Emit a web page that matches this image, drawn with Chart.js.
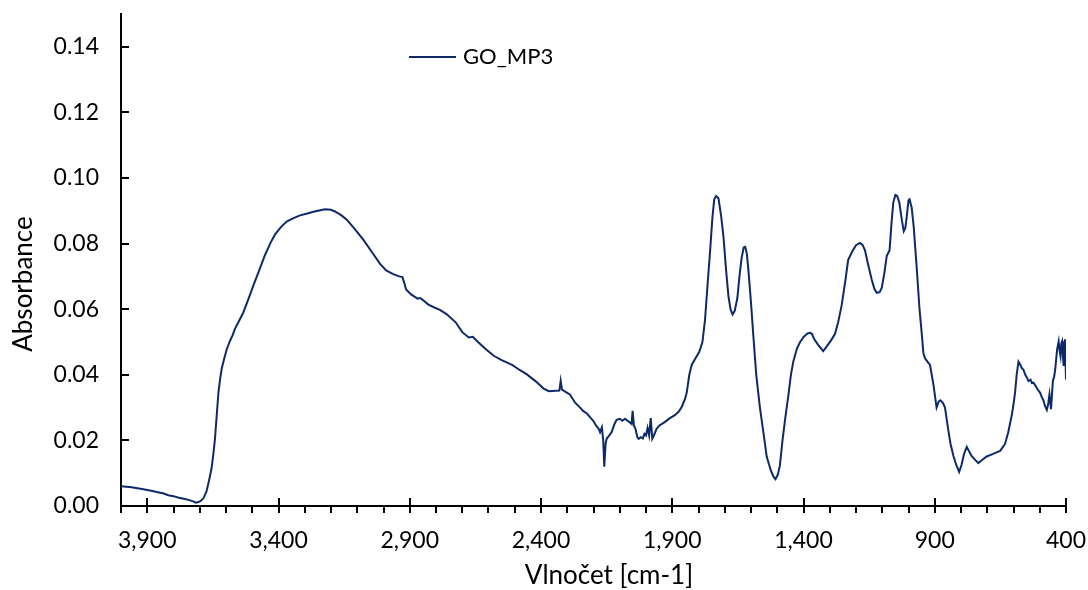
<!DOCTYPE html>
<html><head><meta charset="utf-8">
<script src="https://cdn.jsdelivr.net/npm/chart.js@4.4.1/dist/chart.umd.min.js"></script>
<style>html,body{margin:0;padding:0;background:#fff}#wrap{width:1088px;height:590px;position:relative}</style>
</head><body><div id="wrap"><canvas id="c" width="1088" height="590"></canvas></div>
<script>
const seriesLabel = 'GO_MP3';
const xTitle = 'Vlnočet [cm-1]';
const yTitle = 'Absorbance';
const xTickValues = [3900, 3400, 2900, 2400, 1900, 1400, 900, 400];
const yTickValues = [0, 0.02, 0.04, 0.06, 0.08, 0.10, 0.12, 0.14];
const wavenumbers = [
4000,3960,3920,3880,3860,3840,3820,3800,3780,3760,3740,3725,3715,3705,3695,3685,3674,3664,3655,3648,
3642,3635,3629,3622,3616,3605,3597,3585,3575,3566,3550,3534,3515,3496,3475,3451,3430,3413,3390,3369,
3345,3318,3290,3267,3245,3223,3200,3185,3160,3140,3110,3077,3045,3013,2990,2963,2940,2928,2920,2914,
2895,2870,2860,2850,2829,2800,2785,2760,2725,2700,2675,2660,2640,2610,2580,2550,2510,2480,2455,2420,
2390,2370,2345,2330,2325,2320,2300,2290,2270,2251,2240,2225,2210,2201,2190,2180,2175,2168,2163,2159,
2154,2150,2140,2131,2120,2112,2100,2090,2080,2074,2062,2055,2051,2046,2040,2033,2028,2020,2012,2006,
2000,1994,1988,1982,1976,1970,1960,1950,1930,1909,1890,1875,1864,1852,1845,1835,1826,1812,1797,1785,
1775,1765,1756,1747,1740,1733,1724,1714,1705,1695,1686,1678,1670,1662,1652,1644,1636,1628,1622,1616,
1610,1600,1591,1580,1566,1552,1540,1525,1515,1507,1498,1490,1480,1470,1458,1448,1439,1425,1413,1400,
1385,1375,1368,1360,1345,1325,1310,1295,1280,1268,1255,1240,1230,1215,1200,1185,1175,1166,1155,1140,
1130,1121,1110,1102,1092,1083,1072,1065,1058,1050,1043,1035,1025,1018,1012,1007,1000,996,988,980,
969,958,950,943,937,925,918,905,893,885,878,868,861,850,840,829,818,807,798,788,
778,770,760,745,734,720,702,680,660,651,640,632,620,607,600,594,588,581,575,568,
562,555,548,543,535,530,524,515,508,499,492,486,480,473,468,463,457,450,445,441,
434,428,424,421,418,415,412,409,404,402,400
];
const absorbance = [
0.0060,0.0057,0.0052,0.0046,0.0042,0.0039,0.0033,0.0030,0.0025,0.0022,0.0018,0.0014,0.0010,0.0012,0.0016,0.0025,0.0045,0.0080,0.0115,0.0160,
0.0205,0.0280,0.0345,0.0390,0.0420,0.0455,0.0478,0.0503,0.0520,0.0540,0.0565,0.0590,0.0630,0.0672,0.0715,0.0766,0.0803,0.0828,0.0851,0.0867,
0.0877,0.0886,0.0892,0.0897,0.0901,0.0905,0.0903,0.0898,0.0886,0.0873,0.0845,0.0812,0.0775,0.0738,0.0718,0.0707,0.0700,0.0698,0.0678,0.0660,
0.0645,0.0632,0.0634,0.0628,0.0614,0.0603,0.0598,0.0585,0.0560,0.0530,0.0514,0.0516,0.0500,0.0478,0.0458,0.0445,0.0430,0.0414,0.0402,0.0380,
0.0358,0.0350,0.0351,0.0352,0.0382,0.0355,0.0345,0.0340,0.0315,0.0300,0.0290,0.0282,0.0268,0.0260,0.0245,0.0235,0.0225,0.0240,0.0200,0.0120,
0.0190,0.0205,0.0215,0.0225,0.0250,0.0263,0.0266,0.0260,0.0266,0.0262,0.0255,0.0250,0.0290,0.0245,0.0235,0.0210,0.0205,0.0210,0.0206,0.0220,
0.0215,0.0238,0.0215,0.0268,0.0205,0.0215,0.0235,0.0245,0.0255,0.0268,0.0277,0.0288,0.0302,0.0325,0.0345,0.0400,0.0430,0.0450,0.0470,0.0500,
0.0569,0.0680,0.0775,0.0880,0.0935,0.0945,0.0938,0.0885,0.0822,0.0720,0.0640,0.0600,0.0584,0.0595,0.0634,0.0700,0.0755,0.0788,0.0790,0.0770,
0.0720,0.0620,0.0518,0.0400,0.0300,0.0220,0.0150,0.0110,0.0090,0.0082,0.0095,0.0123,0.0200,0.0265,0.0335,0.0400,0.0440,0.0480,0.0500,0.0515,
0.0526,0.0528,0.0525,0.0510,0.0492,0.0472,0.0488,0.0505,0.0525,0.0560,0.0610,0.0690,0.0750,0.0775,0.0795,0.0802,0.0796,0.0780,0.0740,0.0690,
0.0662,0.0650,0.0652,0.0665,0.0710,0.0762,0.0780,0.0860,0.0925,0.0948,0.0945,0.0925,0.0870,0.0838,0.0848,0.0880,0.0932,0.0935,0.0910,0.0850,
0.0730,0.0600,0.0530,0.0465,0.0450,0.0437,0.0430,0.0370,0.0300,0.0318,0.0322,0.0313,0.0300,0.0240,0.0190,0.0153,0.0125,0.0104,0.0125,0.0160,
0.0180,0.0168,0.0153,0.0140,0.0131,0.0140,0.0151,0.0158,0.0165,0.0168,0.0180,0.0190,0.0225,0.0275,0.0310,0.0346,0.0400,0.0440,0.0432,0.0420,
0.0415,0.0400,0.0390,0.0381,0.0385,0.0375,0.0376,0.0365,0.0355,0.0346,0.0332,0.0322,0.0305,0.0293,0.0310,0.0340,0.0295,0.0381,0.0395,0.0417,
0.0477,0.0502,0.0470,0.0457,0.0495,0.0502,0.0460,0.0427,0.0508,0.0450,0.0386
];

const FONT = 'Lato, "Open Sans", sans-serif';
const LINE_COLOR = '#0c2a6a';

const decorPlugin = {
  id: 'decor',
  afterDraw(chart) {
    const ctx = chart.ctx;
    const xs = chart.scales.x, ys = chart.scales.y;
    const ca = chart.chartArea;
    ctx.save();
    ctx.strokeStyle = '#000';
    ctx.lineWidth = 2;
    yTickValues.forEach(v => {
      const py = Math.round(ys.getPixelForValue(v));
      ctx.beginPath(); ctx.moveTo(ca.left, py); ctx.lineTo(ca.left + 8, py); ctx.stroke();
    });
    for (let v = 400; v <= 4000; v += 100) {
      const px = Math.round(xs.getPixelForValue(v));
      ctx.beginPath(); ctx.moveTo(px, ca.bottom); ctx.lineTo(px, ca.bottom + 7); ctx.stroke();
    }
    xTickValues.forEach(v => {
      const px = Math.round(xs.getPixelForValue(v));
      ctx.beginPath(); ctx.moveTo(px, ca.bottom - 8); ctx.lineTo(px, ca.bottom + 7); ctx.stroke();
    });
    const ds = chart.data.datasets[0];
    ctx.strokeStyle = ds.borderColor; ctx.lineWidth = 2;
    ctx.beginPath(); ctx.moveTo(409, 57); ctx.lineTo(456, 57); ctx.stroke();
    ctx.fillStyle = '#000';
    ctx.font = '22px ' + FONT;
    ctx.textBaseline = 'middle'; ctx.textAlign = 'left';
    ctx.fillText(ds.label, 463, 57);
    ctx.font = '26px ' + FONT;
    ctx.textAlign = 'center';
    ctx.fillText(xTitle, 609, 576);
    ctx.translate(24, 284); ctx.rotate(-Math.PI / 2);
    ctx.fillText(yTitle, 0, 0);
    ctx.restore();
  }
};

new Chart(document.getElementById('c'), {
  type: 'line',
  data: {
    datasets: [{
      label: seriesLabel,
      data: wavenumbers.map((w, i) => ({ x: w, y: absorbance[i] })),
      borderColor: LINE_COLOR,
      borderWidth: 2,
      pointRadius: 0,
      tension: 0,
      fill: false
    }]
  },
  options: {
    responsive: false,
    animation: false,
    layout: { padding: { left: 0, top: 14, right: 22, bottom: 0 } },
    plugins: { legend: { display: false }, tooltip: { enabled: false } },
    scales: {
      x: {
        type: 'linear', reverse: true, min: 400, max: 4000,
        afterBuildTicks: s => { s.ticks = xTickValues.map(v => ({ value: v })); },
        afterFit: s => { s.height = 84; s.paddingLeft = 0; s.paddingRight = 0; },
        grid: { display: false, drawTicks: false },
        border: { display: true, color: '#000', width: 2 },
        ticks: {
          color: '#000', padding: 21, maxRotation: 0, autoSkip: false,
          font: { family: FONT, size: 23 },
          callback: v => Number(v).toLocaleString('en-US')
        }
      },
      y: {
        type: 'linear', min: 0, max: 0.15,
        afterBuildTicks: s => { s.ticks = yTickValues.map(v => ({ value: v })); },
        afterFit: s => { s.width = 121; s.paddingTop = 0; s.paddingBottom = 0; },
        grid: { display: false, drawTicks: false },
        border: { display: true, color: '#000', width: 2 },
        ticks: {
          color: '#000', padding: 22,
          font: { family: FONT, size: 23 },
          callback: v => Number(v).toFixed(2)
        }
      }
    }
  },
  plugins: [decorPlugin]
});
</script></body></html>
